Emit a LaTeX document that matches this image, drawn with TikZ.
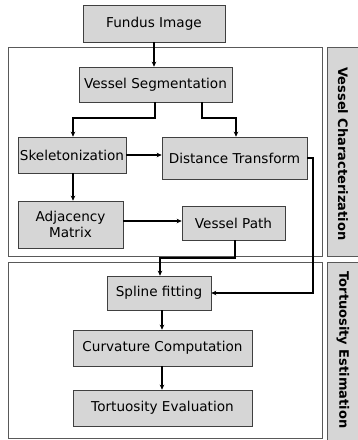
\documentclass[tikz,border=0pt]{standalone}
\usepackage{fontspec}
\setmainfont{DejaVu Sans}
\usetikzlibrary{arrows.meta}
\begin{document}
\begin{tikzpicture}[x=1pt,y=-1pt,
  proc/.style={draw=black!75, fill=black!16, line width=0.6pt, inner sep=0pt, font=\fontsize{13.6}{16}\selectfont, align=center},
  frame/.style={draw=black!65, line width=0.6pt},
  side/.style={draw=black!65, fill=black!16, line width=0.6pt},
  conn/.style={line width=1.4pt, -{Stealth[length=5pt,width=4.5pt]}},
  lab/.style={font=\fontsize{13}{15}\selectfont\bfseries, rotate=-90}]
\useasboundingbox (0,0) rectangle (358,440);
\fill[white] (0,0) rectangle (358,440);
% frames
\draw[frame] (8,47) rectangle (322,256);
\draw[frame] (8,262) rectangle (322,438);
\draw[side] (327,47) rectangle (360,256);
\draw[side] (327,262) rectangle (360,444);
\node[lab] (lab1) at (343,154) {Vessel Characterization};
\node[lab] (lab2) at (343,350) {Tortuosity Estimation};
% boxes
\node[proc, minimum width=142pt, minimum height=37pt] (fund) at (154,23.5) {Fundus Image};
\node[proc, minimum width=153pt, minimum height=35pt] (seg) at (155.5,84.5) {Vessel Segmentation};
\node[proc, minimum width=108pt, minimum height=36pt] (skel) at (72,155) {Skeletonization};
\node[proc, minimum width=145pt, minimum height=42pt] (dt) at (234.5,158) {Distance Transform};
\node[proc, minimum width=105pt, minimum height=47pt] (adj) at (70.5,224.5) {Adjacency\\Matrix};
\node[proc, minimum width=103pt, minimum height=34pt] (vp) at (233.5,223) {Vessel Path};
\node[proc, minimum width=104pt, minimum height=34pt] (sp) at (159,293) {Spline fitting};
\node[proc, minimum width=179pt, minimum height=36pt] (cc) at (162.5,348) {Curvature Computation};
\node[proc, minimum width=179pt, minimum height=36pt] (te) at (162.5,408) {Tortuosity Evaluation};
% connectors
\coordinate (c1) at (313,158);
\draw[conn] (fund.south) -- (fund.south |- seg.north);
\draw[conn] (seg.south -| 155,0) -- (155,118) -- (73,118) -- (skel.north -| 73,0);
\draw[conn] (seg.south -| 202,0) -- (202,118) -- (236,118) -- (dt.north -| 236,0);
\draw[conn] (skel.east |- 0,155) -- (dt.west |- 0,155);
\draw[conn] (skel.south -| 73,0) -- (adj.north -| 73,0);
\draw[conn] (adj.east |- 0,221) -- (vp.west |- 0,221);
\draw[conn] (vp.south -| 235,0) -- (235,258) -- (160,258) -- (sp.north -| 160,0);
\draw[conn] (dt.east) -- (c1) -- (313,293) -- (sp.east);
\draw[conn] (sp.south -| 162,0) -- (cc.north -| 162,0);
\draw[conn] (cc.south -| 162,0) -- (te.north -| 162,0);
\end{tikzpicture}
\end{document}
